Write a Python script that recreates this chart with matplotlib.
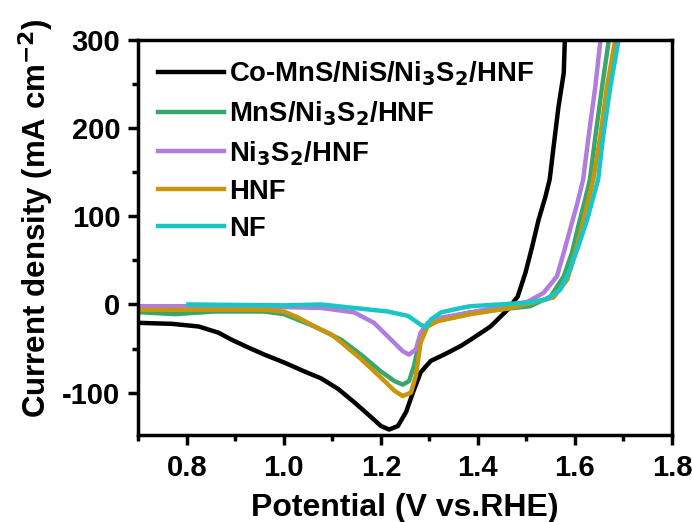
import matplotlib
matplotlib.use("Agg")
from matplotlib import pyplot as plt
from matplotlib.ticker import MultipleLocator

plt.rcParams['font.family'] = ['Liberation Sans', 'DejaVu Sans']
plt.rcParams['font.weight'] = 'bold'
plt.rcParams['mathtext.default'] = 'bf'
plt.rcParams['axes.unicode_minus'] = False

# LSV curves (potential V vs RHE, current mA cm-2)
co_x = [0.708, 0.769, 0.824, 0.865, 0.892, 0.927, 0.96, 1.001, 1.042, 1.077, 1.112,
        1.145, 1.18, 1.2, 1.217, 1.235, 1.252, 1.266, 1.282, 1.303, 1.33, 1.365,
        1.385, 1.426, 1.461, 1.482, 1.498, 1.512, 1.525, 1.539, 1.548, 1.556,
        1.566, 1.577, 1.579, 1.581]
co_y = [-21, -22, -25, -32, -40, -49, -57, -66, -76, -84, -96,
        -111, -128, -138, -142, -138, -122, -100, -77, -64, -57, -47,
        -40, -25, -6, 9, 36, 66, 96, 122, 142, 179,
        224, 263, 297, 310]

mns_x = [0.708, 0.776, 0.858, 0.96, 1.0, 1.063, 1.118, 1.159, 1.2, 1.228, 1.245,
         1.258, 1.268, 1.279, 1.289, 1.31, 1.351, 1.385, 1.44, 1.508, 1.55, 1.577,
         1.594, 1.607, 1.621, 1.631, 1.642, 1.656, 1.669, 1.672]
mns_y = [-9, -11, -8, -8, -11, -25, -40, -57, -76, -87, -91,
         -87, -70, -43, -28, -19, -13, -9, -6, -2, 9, 32,
         59, 89, 119, 142, 190, 247, 297, 310]

ni_x = [0.708, 0.80, 1.0, 1.077, 1.145, 1.186, 1.221, 1.245, 1.258, 1.272, 1.282,
        1.296, 1.324, 1.385, 1.502, 1.535, 1.563, 1.577, 1.59, 1.605, 1.617,
        1.628, 1.642, 1.652, 1.655]
ni_y = [-2, -2, -3, -4, -9, -21, -40, -53, -57, -51, -32,
        -21, -15, -9, 3, 13, 32, 59, 85, 115, 142,
        190, 247, 297, 310]

hnf_x = [0.708, 0.85, 0.96, 1.0, 1.03, 1.063, 1.098, 1.118, 1.159, 1.2, 1.228,
         1.245, 1.262, 1.272, 1.282, 1.296, 1.317, 1.351, 1.385, 1.467, 1.556,
         1.584, 1.601, 1.615, 1.628, 1.638, 1.652, 1.666, 1.682, 1.685]
hnf_y = [-6, -6, -6, -8, -15, -25, -34, -43, -62, -83, -98,
         -104, -100, -81, -43, -25, -19, -15, -11, -4, 8,
         28, 59, 89, 119, 142, 190, 247, 297, 310]

nf_x = [0.803, 1.0, 1.077, 1.145, 1.214, 1.256, 1.282, 1.293, 1.303, 1.324, 1.365,
        1.385, 1.502, 1.543, 1.57, 1.59, 1.607, 1.625, 1.638, 1.648, 1.658,
        1.673, 1.689, 1.692]
nf_y = [0, -1, 0, -4, -8, -13, -23, -26, -17, -9, -4,
        -2, 2, 6, 17, 40, 66, 96, 122, 142, 190,
        247, 297, 310]

fig = plt.figure(figsize=(6.92, 5.22), dpi=100)
ax = fig.add_axes([0.2, 0.167, 0.771, 0.756])

lw = 3.2
ax.plot(co_x, co_y, color="#000000", lw=lw, label="Co-MnS/NiS/Ni$_3$S$_2$/HNF")
ax.plot(mns_x, mns_y, color="#3aa66a", lw=lw, label="MnS/Ni$_3$S$_2$/HNF")
ax.plot(ni_x, ni_y, color="#b07ddf", lw=lw, label="Ni$_3$S$_2$/HNF")
ax.plot(hnf_x, hnf_y, color="#c8960c", lw=lw, label="HNF")
ax.plot(nf_x, nf_y, color="#18c6c6", lw=lw, label="NF")

ax.set_xlim(0.7, 1.8)
ax.set_ylim(-148, 300)
ax.xaxis.set_minor_locator(MultipleLocator(0.1))
ax.yaxis.set_major_locator(MultipleLocator(100))
ax.yaxis.set_minor_locator(MultipleLocator(50))
ax.set_xticks([0.8, 1.0, 1.2, 1.4, 1.6, 1.8])
ax.set_xticklabels(["0.8", "1.0", "1.2", "1.4", "1.6", "1.8"])

for s in ax.spines.values():
    s.set_linewidth(2.5)
ax.tick_params(which="major", direction="out", length=7, width=2.5, labelsize=21)
ax.tick_params(axis="x", which="major", pad=7)
ax.tick_params(axis="y", which="major", pad=6)
ax.tick_params(which="minor", direction="out", length=4, width=2.5)

ax.set_xlabel("Potential (V vs.RHE)", fontsize=23, fontweight="bold", labelpad=8)
ax.set_ylabel("Current density (mA cm$^{-2}$)", fontsize=22.5, fontweight="bold", labelpad=4)
ax.yaxis.set_label_coords(-0.155, 0.55)

ax.legend(loc="upper left", frameon=False, fontsize=19.8, handlelength=2.4,
          handletextpad=0.2, labelspacing=0.4, borderaxespad=0.3,
          bbox_to_anchor=(0.0, 1.0))

fig.savefig("out.png", dpi=100)
plt.close(fig)
